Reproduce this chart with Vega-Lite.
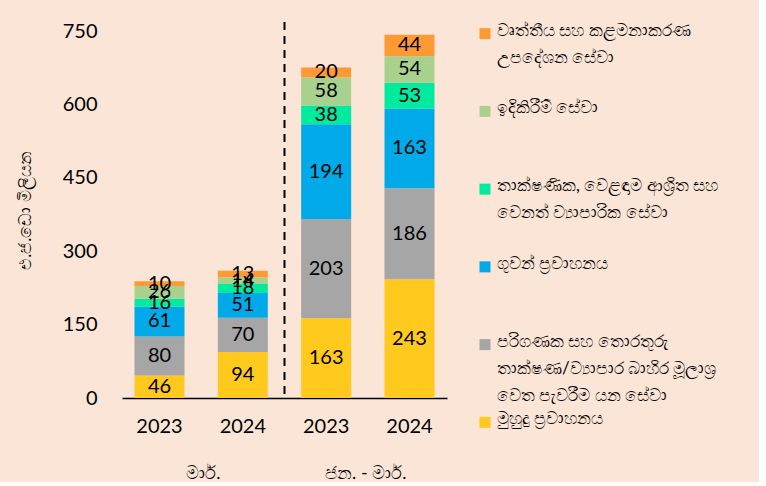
{
  "$schema": "https://vega.github.io/schema/vega-lite/v6.json",
  "background": "#FBE5D6",
  "padding": {"left": 16, "top": 21, "right": 0, "bottom": 0},
  "spacing": 32,
  "config": {"view": {"stroke": null}, "font": "Lato"},
  "datasets": {
    "bars": [
      {"period": "මාර්. 2023", "cat": "මුහුදු ප්\u200dරවාහනය", "value": 46},
      {"period": "මාර්. 2023", "cat": "පරිගණක සහ තොරතුරු\nතාක්ෂණ/ව්\u200dයාපාර බාහිර මූලාශ්\u200dර\nවෙත පැවරීම යන සේවා", "value": 80},
      {"period": "මාර්. 2023", "cat": "ගුවන් ප්\u200dරවාහනය", "value": 61},
      {"period": "මාර්. 2023", "cat": "තාක්ෂණික, වෙළඳාම ආශ්\u200dරිත සහ\nවෙනත් ව්\u200dයාපාරික සේවා", "value": 16},
      {"period": "මාර්. 2023", "cat": "ඉදිකිරීම් සේවා", "value": 26},
      {"period": "මාර්. 2023", "cat": "වෘත්තීය සහ කළමනාකරණ\nඋපදේශන සේවා", "value": 10},
      {"period": "මාර්. 2024", "cat": "මුහුදු ප්\u200dරවාහනය", "value": 94},
      {"period": "මාර්. 2024", "cat": "පරිගණක සහ තොරතුරු\nතාක්ෂණ/ව්\u200dයාපාර බාහිර මූලාශ්\u200dර\nවෙත පැවරීම යන සේවා", "value": 70},
      {"period": "මාර්. 2024", "cat": "ගුවන් ප්\u200dරවාහනය", "value": 51},
      {"period": "මාර්. 2024", "cat": "තාක්ෂණික, වෙළඳාම ආශ්\u200dරිත සහ\nවෙනත් ව්\u200dයාපාරික සේවා", "value": 18},
      {"period": "මාර්. 2024", "cat": "ඉදිකිරීම් සේවා", "value": 14},
      {"period": "මාර්. 2024", "cat": "වෘත්තීය සහ කළමනාකරණ\nඋපදේශන සේවා", "value": 13},
      {"period": "ජන. - මාර්. 2023", "cat": "මුහුදු ප්\u200dරවාහනය", "value": 163},
      {"period": "ජන. - මාර්. 2023", "cat": "පරිගණක සහ තොරතුරු\nතාක්ෂණ/ව්\u200dයාපාර බාහිර මූලාශ්\u200dර\nවෙත පැවරීම යන සේවා", "value": 203},
      {"period": "ජන. - මාර්. 2023", "cat": "ගුවන් ප්\u200dරවාහනය", "value": 194},
      {"period": "ජන. - මාර්. 2023", "cat": "තාක්ෂණික, වෙළඳාම ආශ්\u200dරිත සහ\nවෙනත් ව්\u200dයාපාරික සේවා", "value": 38},
      {"period": "ජන. - මාර්. 2023", "cat": "ඉදිකිරීම් සේවා", "value": 58},
      {"period": "ජන. - මාර්. 2023", "cat": "වෘත්තීය සහ කළමනාකරණ\nඋපදේශන සේවා", "value": 20},
      {"period": "ජන. - මාර්. 2024", "cat": "මුහුදු ප්\u200dරවාහනය", "value": 243},
      {"period": "ජන. - මාර්. 2024", "cat": "පරිගණක සහ තොරතුරු\nතාක්ෂණ/ව්\u200dයාපාර බාහිර මූලාශ්\u200dර\nවෙත පැවරීම යන සේවා", "value": 186},
      {"period": "ජන. - මාර්. 2024", "cat": "ගුවන් ප්\u200dරවාහනය", "value": 163},
      {"period": "ජන. - මාර්. 2024", "cat": "තාක්ෂණික, වෙළඳාම ආශ්\u200dරිත සහ\nවෙනත් ව්\u200dයාපාරික සේවා", "value": 53},
      {"period": "ජන. - මාර්. 2024", "cat": "ඉදිකිරීම් සේවා", "value": 54},
      {"period": "ජන. - මාර්. 2024", "cat": "වෘත්තීය සහ කළමනාකරණ\nඋපදේශන සේවා", "value": 44}
    ],
    "legend": [
      {"cat": "වෘත්තීය සහ කළමනාකරණ\nඋපදේශන සේවා"},
      {"cat": "ඉදිකිරීම් සේවා"},
      {"cat": "තාක්ෂණික, වෙළඳාම ආශ්\u200dරිත සහ\nවෙනත් ව්\u200dයාපාරික සේවා"},
      {"cat": "ගුවන් ප්\u200dරවාහනය"},
      {"cat": "පරිගණක සහ තොරතුරු\nතාක්ෂණ/ව්\u200dයාපාර බාහිර මූලාශ්\u200dර\nවෙත පැවරීම යන සේවා"},
      {"cat": "මුහුදු ප්\u200dරවාහනය"}
    ],
    "divider": [{"group": "ජන. - මාර්."}]
  },
  "hconcat": [
    {
      "width": 325,
      "height": 376,
      "layer": [
        {
          "data": {"name": "bars"},
          "transform": [{"window": [{"op": "row_number", "as": "stack_rank"}]}],
          "encoding": {
            "x": {"field": "period", "type": "nominal", "sort": ["මාර්. 2023", "මාර්. 2024", "ජන. - මාර්. 2023", "ජන. - මාර්. 2024"],
                  "scale": {"type": "band", "paddingInner": 0.4, "paddingOuter": 0.15},
                  "axis": {"orient": "bottom", "title": null, "labelAngle": 0, "labelExpr": "slice(datum.label, -4)", "labelFontSize": 20, "labelColor": "#000000", "labelPadding": 18, "ticks": false, "domainColor": "#000000", "domainWidth": 1.5, "labelFont": "Lato"}},
            "y": {"field": "value", "type": "quantitative", "stack": "zero",
                  "scale": {"domain": [0, 769], "nice": false},
                  "axis": {"values": [0, 150, 300, 450, 600, 750], "grid": false, "domain": false, "ticks": false, "labelFontSize": 20, "labelColor": "#000000", "labelPadding": 25, "labelFont": "Lato", "title": "එ.ජ.ඩො මිලියන", "titleFontSize": 17, "titleFontWeight": "normal", "titleColor": "#000000", "titlePadding": 28}},
            "order": {"field": "stack_rank", "type": "quantitative", "sort": "ascending"}
          },
          "layer": [
            {
              "mark": {"type": "bar"},
              "encoding": {
                "color": {"field": "cat", "type": "nominal",
                          "scale": {"domain": ["මුහුදු ප්\u200dරවාහනය", "පරිගණක සහ තොරතුරු\nතාක්ෂණ/ව්\u200dයාපාර බාහිර මූලාශ්\u200dර\nවෙත පැවරීම යන සේවා", "ගුවන් ප්\u200dරවාහනය", "තාක්ෂණික, වෙළඳාම ආශ්\u200dරිත සහ\nවෙනත් ව්\u200dයාපාරික සේවා", "ඉදිකිරීම් සේවා", "වෘත්තීය සහ කළමනාකරණ\nඋපදේශන සේවා"],
                                    "range": ["#FFC91E", "#A6A6A6", "#00AAE8", "#00EBA0", "#A9D18E", "#FF9933"]},
                          "legend": null}
              }
            },
            {
              "mark": {"type": "text", "fontSize": 20, "font": "Lato", "baseline": "middle", "color": "#000000"},
              "encoding": {
                "y": {"field": "value", "type": "quantitative", "stack": "zero", "bandPosition": 0.5},
                "detail": {"field": "cat", "type": "nominal"},
                "text": {"field": "value", "type": "quantitative"}
              }
            }
          ]
        },
        {
          "data": {"name": "divider"},
          "mark": {"type": "rule", "strokeDash": [8, 6], "strokeWidth": 2, "color": "#000000"},
          "encoding": {
            "x": {"field": "group", "type": "nominal", "bandPosition": 0,
                  "scale": {"type": "band", "domain": ["මාර්.", "ජන. - මාර්."], "paddingInner": 0, "paddingOuter": 0},
                  "axis": {"orient": "bottom", "title": null, "labelAngle": 0, "domain": false, "ticks": false, "labelFontSize": 18, "labelColor": "#000000", "labelPadding": 66}}
          }
        }
      ],
      "resolve": {"scale": {"x": "independent"}, "axis": {"x": "independent"}}
    },
    {
      "width": 280,
      "height": 412,
      "data": {"name": "legend"},
      "layer": [
        {
          "mark": {"type": "square", "size": 121, "opacity": 1},
          "encoding": {
            "y": {"field": "cat", "type": "nominal", "sort": null, "scale": {"type": "point", "padding": 0.15}, "axis": null},
            "x": {"value": 6},
            "color": {"field": "cat", "type": "nominal", "legend": null}
          }
        },
        {
          "mark": {"type": "text", "align": "left", "baseline": "top", "dy": -11, "fontSize": 17, "lineBreak": "\n", "lineHeight": 27, "color": "#000000"},
          "encoding": {
            "y": {"field": "cat", "type": "nominal", "sort": null, "scale": {"type": "point", "padding": 0.15}, "axis": null},
            "x": {"value": 18},
            "text": {"field": "cat"}
          }
        }
      ]
    }
  ]
}
